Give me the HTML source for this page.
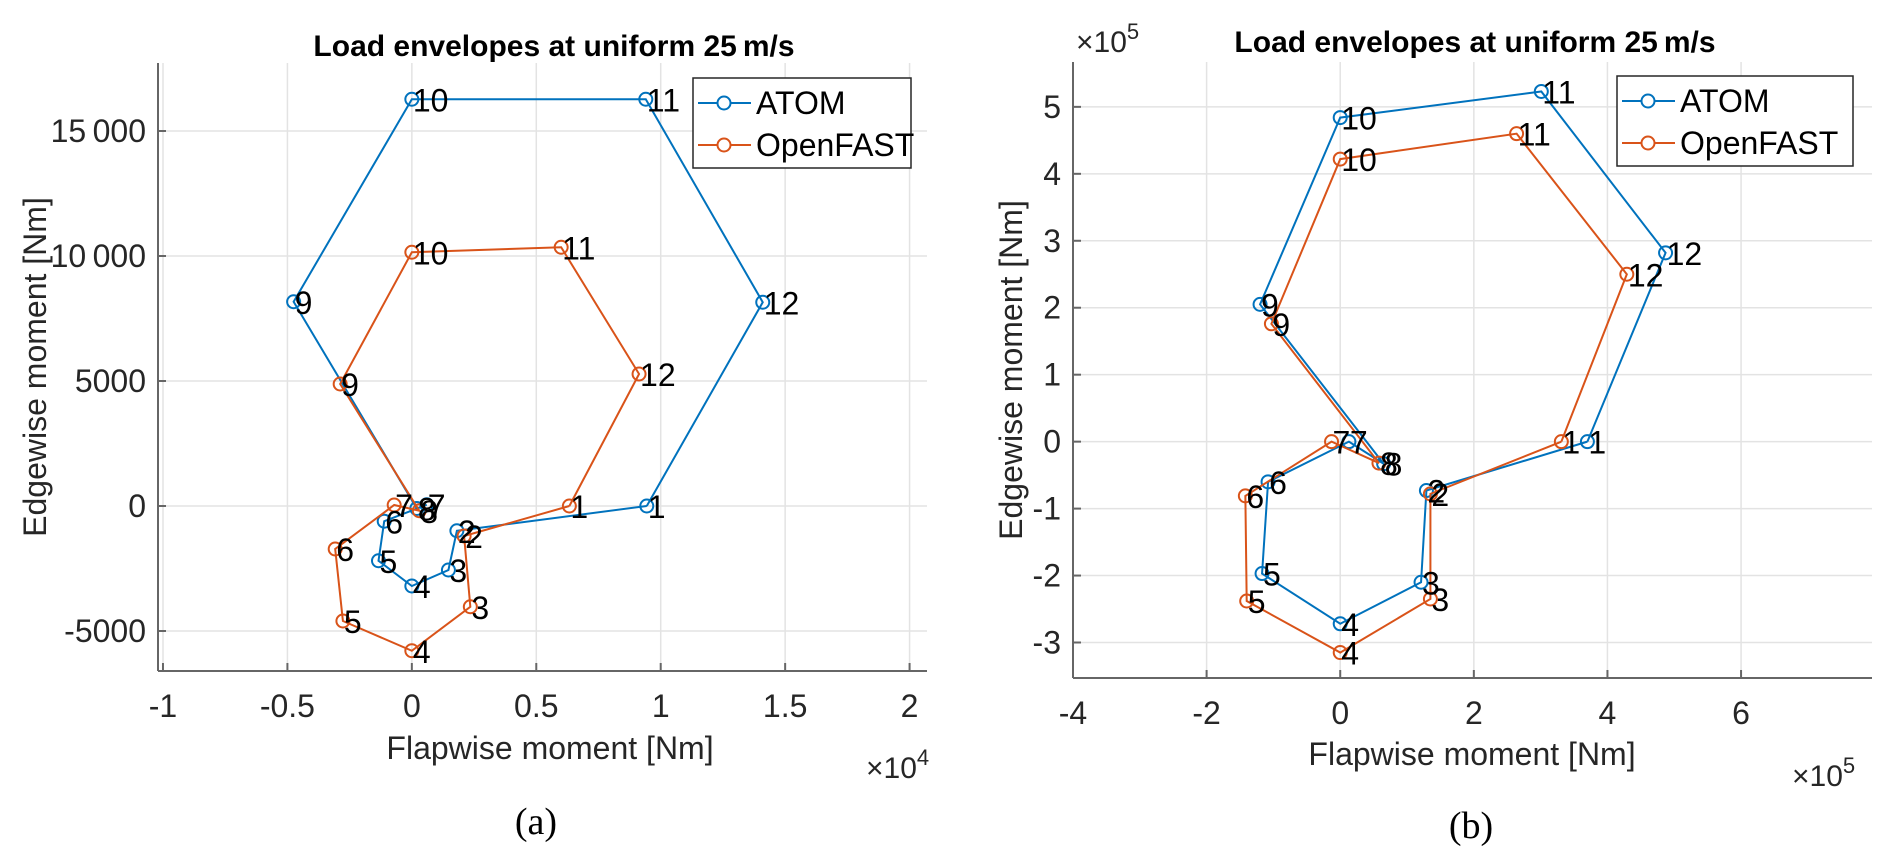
<!DOCTYPE html>
<html><head><meta charset="utf-8"><style>
body{margin:0;background:#fff;}
svg{display:block;font-family:"Liberation Sans",Arial,sans-serif;}
</style></head><body>
<svg id="fig" width="1892" height="858" viewBox="0 0 1892 858" xmlns="http://www.w3.org/2000/svg"></svg>
<script>
// ---- Panel (a) data ----
const labelsA = ["1","2","3","4","5","6","7","8","9","10","11","12"];
const atomXA = [0.944,0.181,0.147,0,-0.134,-0.111,0.06,0.02,-0.475,0,0.94,1.41];
const atomYA = [0,-990,-2560,-3200,-2190,-610,50,-100,8170,16270,16270,8150];
const ofXA = [0.633,0.21,0.235,0,-0.277,-0.308,-0.071,0.03,-0.288,0,0.60,0.913];
const ofYA = [0,-1200,-4030,-5790,-4600,-1720,40,-190,4880,10150,10350,5280];
const xTicksA = [-1,-0.5,0,0.5,1,1.5,2];
const xTickLabelsA = ["-1","-0.5","0","0.5","1","1.5","2"];
const yTicksA = [-5000,0,5000,10000,15000];
const yTickLabelsA = ["-5000","0","5000","10\u2009000","15\u2009000"];
// ---- Panel (b) data ----
const labelsB = ["1","2","3","4","5","6","7","8","9","10","11","12"];
const atomXB = [3.70,1.29,1.21,0,-1.17,-1.08,0.13,0.65,-1.20,0,3.01,4.87];
const atomYB = [0,-0.73,-2.10,-2.72,-1.97,-0.60,0,-0.33,2.05,4.84,5.23,2.82];
const ofXB = [3.31,1.35,1.35,0,-1.40,-1.42,-0.13,0.58,-1.03,0,2.64,4.29];
const ofYB = [0,-0.78,-2.35,-3.15,-2.38,-0.81,0,-0.32,1.76,4.22,4.60,2.50];
const xTicksB = [-4,-2,0,2,4,6];
const xTickLabelsB = ["-4","-2","0","2","4","6"];
const yTicksB = [-3,-2,-1,0,1,2,3,4,5];
const yTickLabelsB = ["-3","-2","-1","0","1","2","3","4","5"];

const NS="http://www.w3.org/2000/svg";
const svg=document.getElementById('fig');
function mk(tag,attrs,parent,text){const e=document.createElementNS(NS,tag);for(const k in attrs)e.setAttribute(k,attrs[k]);if(text!==undefined)e.textContent=text;(parent||svg).appendChild(e);return e;}
const BLUE="#0072BD",ORANGE="#D95319";
const FS=32;

function panel(cfg){
  const g=mk('g',{});
  
  
  const L=cfg.L,R=cfg.R,T=cfg.T,B=cfg.B;
  const sx=v=>L+(v-cfg.xmin)/(cfg.xmax-cfg.xmin)*(R-L);
  const sy=v=>B-(v-cfg.ymin)/(cfg.ymax-cfg.ymin)*(B-T);
  cfg.xTicks.forEach(t=>{const x=sx(t);const l=mk('line',{x1:x,y1:T,x2:x,y2:B,stroke:'#e3e3e3','stroke-width':1.5},g);
    
    });
  cfg.yTicks.forEach(t=>{const y=sy(t);const l=mk('line',{x1:L,y1:y,x2:R,y2:y,stroke:'#e3e3e3','stroke-width':1.5},g);
    
    });
  const ax=mk('line',{x1:L,y1:B,x2:R,y2:B,stroke:'#666','stroke-width':2},g);
  
  
  const ay=mk('line',{x1:L,y1:T,x2:L,y2:B,stroke:'#666','stroke-width':2},g);
  
  
  cfg.xTicks.forEach((t,i)=>{const x=sx(t);mk('line',{x1:x,y1:B,x2:x,y2:B-8,stroke:'#666','stroke-width':2},g);
    const tx=mk('text',{x:x,y:B+46,'font-size':FS,'text-anchor':'middle',fill:'#262626'},g,cfg.xTickLabels[i]);
    
    });
  cfg.yTicks.forEach((t,i)=>{const y=sy(t);mk('line',{x1:L,y1:y,x2:L+8,y2:y,stroke:'#666','stroke-width':2},g);
    const tx=mk('text',{x:L-12,y:y+11,'font-size':FS,'text-anchor':'end',fill:'#262626'},g,cfg.yTickLabels[i]);
    
    });
  function series(xs,ys,color,nm){
    const sg=mk('g',{},g);
    
    
    let d='';
    for(let i=0;i<=xs.length;i++){const k=i%xs.length;d+=(i?'L':'M')+sx(xs[k])+' '+sy(ys[k]);}
    mk('path',{d:d,fill:'none',stroke:color,'stroke-width':2},sg);
    xs.forEach((v,i)=>{const c=mk('circle',{cx:sx(v),cy:sy(ys[i]),r:6.5,fill:'none',stroke:color,'stroke-width':2},sg);
      
      });
  }
  series(cfg.ax,cfg.ay,BLUE,'atom-series');
  series(cfg.ox,cfg.oy,ORANGE,'openfast-series');
  function labels(xs,ys){xs.forEach((v,i)=>{const t=mk('text',{x:sx(v)+1,y:sy(ys[i])+12,'font-size':FS,fill:'#000'},g,cfg.labels[i]);
    
    });}
  labels(cfg.ax,cfg.ay);labels(cfg.ox,cfg.oy);
  const ti=mk('text',{x:cfg.tx,y:cfg.ty,'font-size':30,'font-weight':'bold','text-anchor':'middle',fill:'#000'},g,'Load envelopes at uniform 25\u2009m/s');
  
  
  const xl=mk('text',{x:cfg.xlx,y:cfg.xly,'font-size':FS,'text-anchor':'middle',fill:'#262626'},g,'Flapwise moment [Nm]');
  
  
  const yl=mk('text',{x:0,y:0,'font-size':FS,'text-anchor':'middle',fill:'#262626',transform:`translate(${cfg.ylx},${(T+B)/2}) rotate(-90)`},g,'Edgewise moment [Nm]');
  
  
  const ex=mk('text',{x:cfg.ex,y:cfg.ey,'font-size':30,fill:'#262626'},g);
  
  
  mk('tspan',{},ex,'\u00d710');
  mk('tspan',{dy:-13,'font-size':22},ex,cfg.expTxt);
  const lg=mk('g',{},g);
  
  
  mk('rect',{x:cfg.lx,y:cfg.ly,width:cfg.lw,height:90,fill:'#fff',stroke:'#262626','stroke-width':1.5},lg);
  [['ATOM',BLUE],['OpenFAST',ORANGE]].forEach((e,i)=>{
    const ent=mk('g',{},lg);
    
    
    const y=cfg.ly+25+i*42;
    mk('line',{x1:cfg.lx+5,y1:y,x2:cfg.lx+58,y2:y,stroke:e[1],'stroke-width':2},ent);
    mk('circle',{cx:cfg.lx+31,cy:y,r:6.5,fill:'#fff',stroke:e[1],'stroke-width':2},ent);
    mk('text',{x:cfg.lx+63,y:y+11,'font-size':FS,fill:'#000'},ent,e[0]);
  });
  const cp=mk('text',{x:cfg.cx,y:cfg.cy,'font-size':38,'font-family':'"Liberation Serif",serif','text-anchor':'middle',fill:'#000'},g,cfg.cap);
  
  
}

panel({name:'panel-a',L:158,R:927,T:63,B:671,xmin:-1.02,xmax:2.07,ymin:-6600,ymax:17720,
  xTicks:xTicksA,xTickLabels:xTickLabelsA,yTicks:yTicksA,yTickLabels:yTickLabelsA,
  ax:atomXA,ay:atomYA,ox:ofXA,oy:ofYA,labels:labelsA,
  tx:554,ty:56,xlx:550,xly:759,ylx:46,ex:866,ey:778,expTxt:'4',expName:'x-exponent-label',
  lx:693,ly:78,lw:218,cx:536,cy:834,cap:'(a)'});
panel({name:'panel-b',L:1073,R:1872,T:62,B:678,xmin:-4,xmax:7.96,ymin:-3.53,ymax:5.67,
  xTicks:xTicksB,xTickLabels:xTickLabelsB,yTicks:yTicksB,yTickLabels:yTickLabelsB,
  ax:atomXB,ay:atomYB,ox:ofXB,oy:ofYB,labels:labelsB,
  tx:1475,ty:52,xlx:1472,xly:765,ylx:1022,ex:1792,ey:786,expTxt:'5',expName:'x-exponent-label',
  lx:1617,ly:76,lw:236,cx:1471,cy:838,cap:'(b)'});
const ye=mk('text',{x:1076,y:52,'font-size':30,fill:'#262626'});


mk('tspan',{},ye,'\u00d710');
mk('tspan',{dy:-13,'font-size':22},ye,'5');
</script>
</body></html>
